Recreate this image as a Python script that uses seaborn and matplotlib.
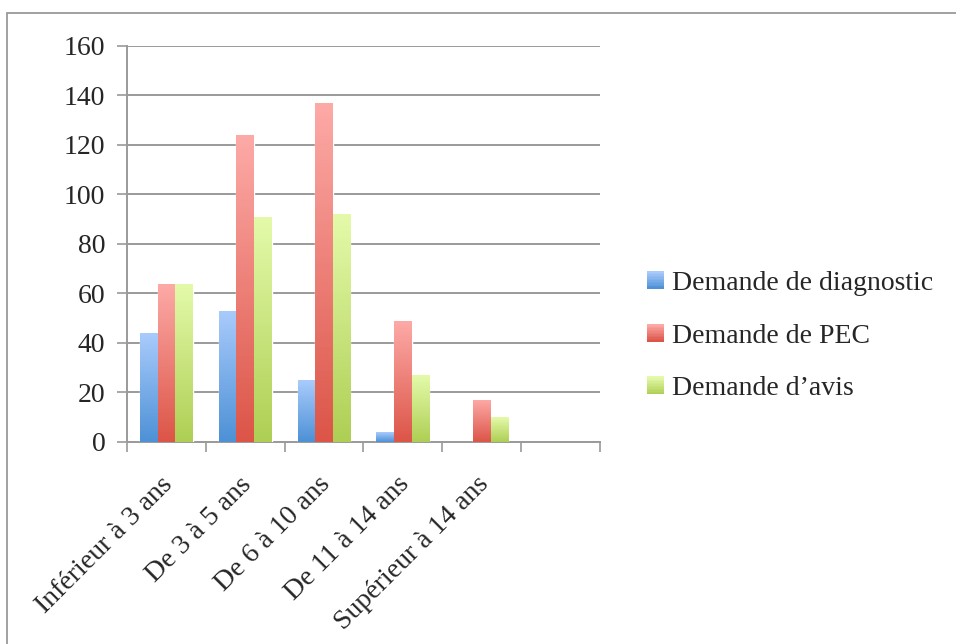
import pandas as pd
import seaborn as sns
import matplotlib.pyplot as plt
import matplotlib.transforms as mtransforms
import numpy as np
from matplotlib.colors import LinearSegmentedColormap, to_rgb
from matplotlib.patches import Rectangle, Patch
from matplotlib.legend_handler import HandlerPatch

# Data
categories = ['Inférieur à 3 ans', 'De 3 à 5 ans', 'De 6 à 10 ans',
              'De 11 à 14 ans', 'Supérieur à 14 ans']
series = ['Demande de diagnostic', 'Demande de PEC', 'Demande d\u2019avis']
diagnostic = [44, 53, 25, 4, 0]
pec = [64, 124, 137, 49, 17]
avis = [64, 91, 92, 27, 10]

# gradient colours (top, bottom) for each series
grad = {
    'Demande de diagnostic': ('#a9cbfc', '#4d91d6'),
    'Demande de PEC': ('#fdaaa7', '#dc5548'),
    'Demande d\u2019avis': ('#e4faaa', '#aecf54'),
}

df = pd.DataFrame({
    'Tranche': categories * 3,
    'Demande': [series[0]] * 5 + [series[1]] * 5 + [series[2]] * 5,
    'Valeur': diagnostic + pec + avis,
})


class GradientHandler(HandlerPatch):
    # legend key drawn as a stack of thin strips, light at top
    def __init__(self, top, bottom, **kw):
        super().__init__(**kw)
        self.top, self.bottom = np.array(to_rgb(top)), np.array(to_rgb(bottom))

    def create_artists(self, legend, orig_handle, xdescent, ydescent,
                       width, height, fontsize, trans):
        n = 12
        arts = []
        for i in range(n):
            t = i / (n - 1)
            c = self.bottom * (1 - t) + self.top * t
            r = Rectangle((-xdescent, -ydescent + height * i / n), width,
                          height / n + 0.3, facecolor=c, edgecolor='none',
                          transform=trans)
            arts.append(r)
        return arts


sns.set_style('white')
plt.rcParams['font.family'] = ['Liberation Serif', 'DejaVu Serif']

fig = plt.figure(figsize=(9.56, 6.44), dpi=100)
ax = fig.add_axes([0.1328, 0.3137, 0.4948, 0.6149])

palette = {s: grad[s][1] for s in series}
sns.barplot(data=df, x='Tranche', y='Valeur', hue='Demande', order=categories,
            hue_order=series, palette=palette, width=0.67, ax=ax,
            legend=False, saturation=1)

# replace flat fills with vertical gradients
for patch in list(ax.patches):
    fc = patch.get_facecolor()
    hexc = '#%02x%02x%02x' % tuple(int(round(c * 255)) for c in fc[:3])
    top, bottom = None, None
    for s in series:
        if hexc.lower() == grad[s][1].lower():
            top, bottom = grad[s]
    if top is None or patch.get_height() <= 0:
        continue
    x0, y0 = patch.get_x(), patch.get_y()
    w, h = patch.get_width(), patch.get_height()
    cmap = LinearSegmentedColormap.from_list('g', [bottom, top])
    img = ax.imshow(np.linspace(0, 1, 100).reshape(-1, 1), cmap=cmap,
                    aspect='auto', origin='lower',
                    extent=[x0, x0 + w, y0, y0 + h], zorder=3)
    img.set_clip_path(patch)
    patch.set_facecolor('none')
    patch.set_zorder(3)

ax.set_xlim(-0.5, 5.5)
ax.set_ylim(0, 160)
ax.set_yticks(range(0, 161, 20))
ax.set_xlabel('')
ax.set_ylabel('')

ax.yaxis.grid(True, color='#9a9a9a', linewidth=1.4, zorder=0)
ax.set_axisbelow(True)
for side in ['top', 'right']:
    ax.spines[side].set_visible(False)
for side in ['left', 'bottom']:
    ax.spines[side].set_color('#9a9a9a')
    ax.spines[side].set_linewidth(1.4)

ax.tick_params(axis='y', left=True, length=7, width=1.2, color='#9a9a9a',
               labelsize=20, pad=8.5)
ax.set_xticks(range(len(categories)))
ax.set_xticklabels(categories, rotation=45, ha='right', rotation_mode='anchor',
                   fontsize=20)
ax.tick_params(axis='x', which='major', length=0, pad=21.5)
ax.set_xticks(np.arange(-0.5, 6, 1), minor=True)
ax.tick_params(axis='x', which='minor', bottom=True, length=7, width=1.2,
               color='#9a9a9a')
shift = mtransforms.ScaledTranslation(-0.06, 0, fig.dpi_scale_trans)
for lab in ax.get_xticklabels():
    lab.set_transform(lab.get_transform() + shift)

handles = [Patch(facecolor=grad[s][1], edgecolor='none') for s in series]
handler_map = {h: GradientHandler(grad[s][0], grad[s][1])
               for h, s in zip(handles, series)}
fig.legend(handles, series, loc='center left', bbox_to_anchor=(0.651, 0.478),
           frameon=False, fontsize=20, handlelength=0.6, handleheight=0.6,
           handletextpad=0.3, labelspacing=1.0, handler_map=handler_map)

# outer frame of the chart area
fig.patches.append(Rectangle((0.007, -0.05), 1.05, 1.03, transform=fig.transFigure,
                             fill=False, edgecolor='#9a9a9a', linewidth=1.3))

fig.savefig('out.png', dpi=100)
